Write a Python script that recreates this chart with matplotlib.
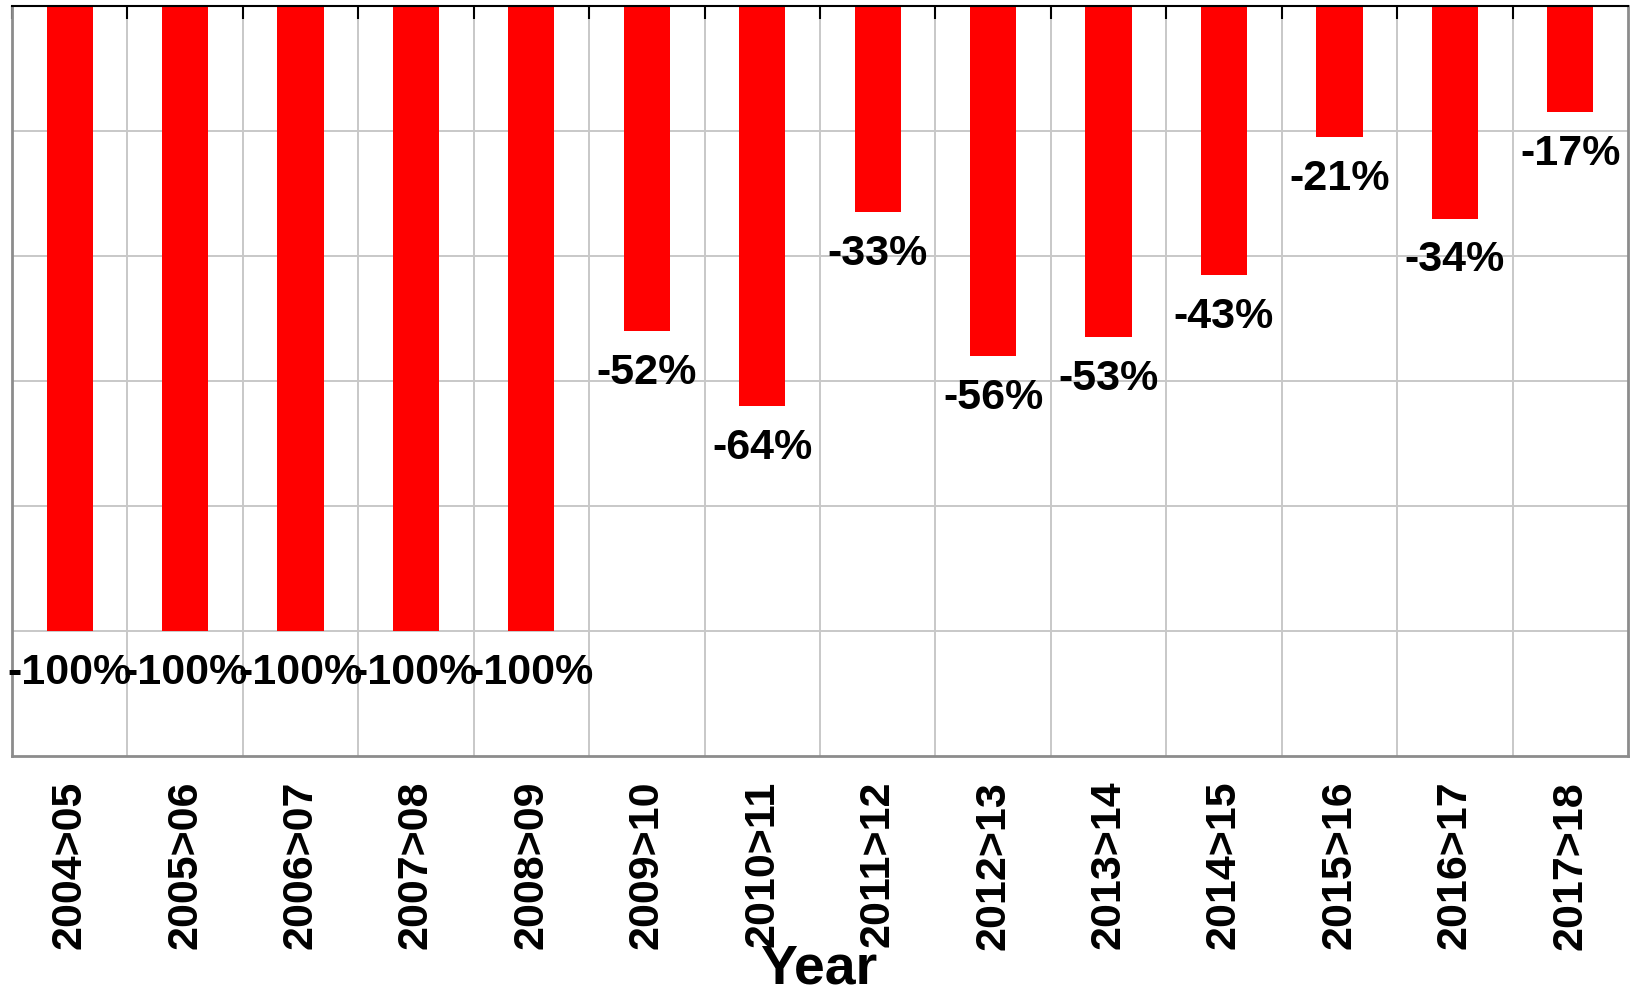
import matplotlib.pyplot as plt
import numpy as np

plt.rcParams['font.family'] = ['Liberation Sans', 'DejaVu Sans']

# year-over-year change per period
periods = ['2004>05', '2005>06', '2006>07', '2007>08', '2008>09', '2009>10', '2010>11',
           '2011>12', '2012>13', '2013>14', '2014>15', '2015>16', '2016>17', '2017>18']
change = [-100, -100, -100, -100, -100, -52, -64, -33, -56, -53, -43, -21, -34, -17]

fig = plt.figure(figsize=(16.37, 9.95), dpi=100)
ax = fig.add_axes([0.0073, 0.239, 0.9872, 0.754])

x = np.arange(len(periods))
ax.bar(x, change, width=0.4, color='#ff0000', zorder=2)

# value labels under each bar end
for xi, v in zip(x, change):
    ax.annotate(f'{v}%', (xi, v), xytext=(0, -15), textcoords='offset points',
                ha='center', va='top', fontsize=31, fontweight='bold', zorder=3)

ax.set_xlim(-0.5, len(periods) - 0.5)
ax.set_ylim(-120, 0)

# category boundaries: grid + inward ticks on top spine
ax.set_xticks(x - 0.5, minor=True)
ax.set_xticks(x)
ax.set_xticklabels(periods, rotation=90, fontsize=31, fontweight='bold')
ax.tick_params(axis='x', which='major', length=0, pad=17)
ax.tick_params(axis='x', which='minor', bottom=False, top=True, direction='in',
               length=9.5, width=1.5, color='black')
ax.grid(True, which='minor', axis='x', color='#c8c8c8', linewidth=1.4, zorder=0)

ax.set_yticks(np.arange(-100, 0, 20))
ax.tick_params(axis='y', length=0, labelleft=False)
ax.grid(True, which='major', axis='y', color='#c8c8c8', linewidth=1.4, zorder=0)

for side in ['left', 'right', 'bottom']:
    ax.spines[side].set_color('#8c8c8c')
    ax.spines[side].set_linewidth(2)
ax.spines['top'].set_color('black')
ax.spines['top'].set_linewidth(1.5)

fig.text(0.5, 0.012, 'Year', ha='center', va='baseline', fontsize=40, fontweight='bold')

fig.savefig('out.png', dpi=100)
